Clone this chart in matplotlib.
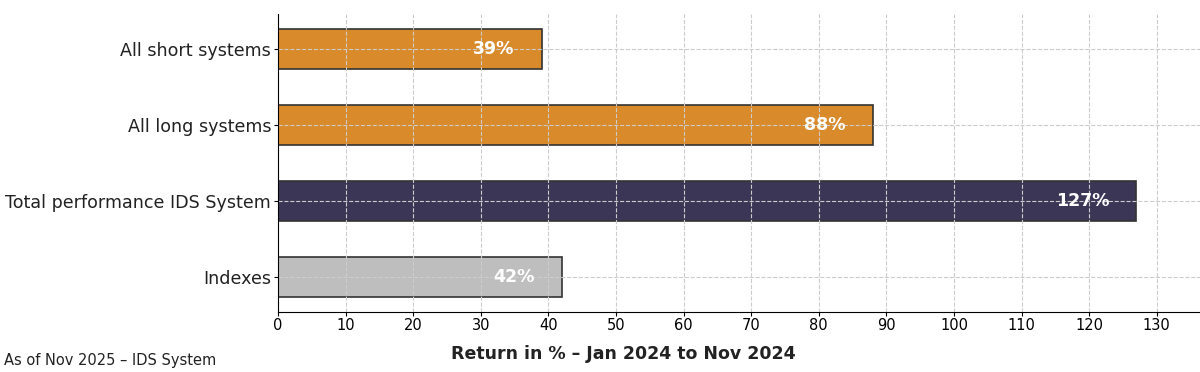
#!/usr/bin/env python3

import matplotlib.pyplot as plt

# data (top to bottom)
categories = ["All short systems", "All long systems",
              "Total performance IDS System", "Indexes"]
returns = [39, 88, 127, 42]
colors = ["#D98A2B", "#D98A2B", "#3C3656", "#BEBEBE"]
xticks = list(range(0, 131, 10))


def main():
    fig = plt.figure(figsize=(12, 3.72), dpi=100)
    ax = fig.add_axes([0.2317, 0.161, 0.7683, 0.801])

    ypos = list(range(len(categories)))[::-1]
    ax.barh(ypos, returns, height=0.53, color=colors,
            edgecolor="#333333", linewidth=1.2)

    # value labels inside bars
    for y, v in zip(ypos, returns):
        ax.text(v - 4, y, f"{v}%", ha="right", va="center",
                color="white", fontsize=12.5, fontweight="bold")

    ax.set_yticks(ypos)
    ax.set_yticklabels(categories, fontsize=12.6, color="#222222")
    ax.tick_params(axis="y", length=3, pad=2)
    ax.set_xticks(xticks)
    ax.tick_params(axis="x", labelsize=10.5, length=3, pad=1)
    ax.set_xlim(0, 136.4)
    ax.set_ylim(-0.46, 3.46)

    # grid drawn over the bars
    ax.set_axisbelow(False)
    ax.grid(True, linestyle="--", color="#CCCCCC", linewidth=0.8)

    for s in ("top", "right"):
        ax.spines[s].set_visible(False)
    for s in ("left", "bottom"):
        ax.spines[s].set_zorder(5)

    ax.set_xlabel("Return in % \u2013 Jan 2024 to Nov 2024",
                  fontsize=12.5, fontweight="bold", color="#222222")
    ax.xaxis.set_label_coords(0.374, -0.11)
    fig.text(0.003, 0.032, "As of Nov 2025 \u2013 IDS System",
             fontsize=10.5, color="#222222", ha="left", va="center")

    fig.savefig("out.png", dpi=100)


if __name__ == "__main__":
    main()
